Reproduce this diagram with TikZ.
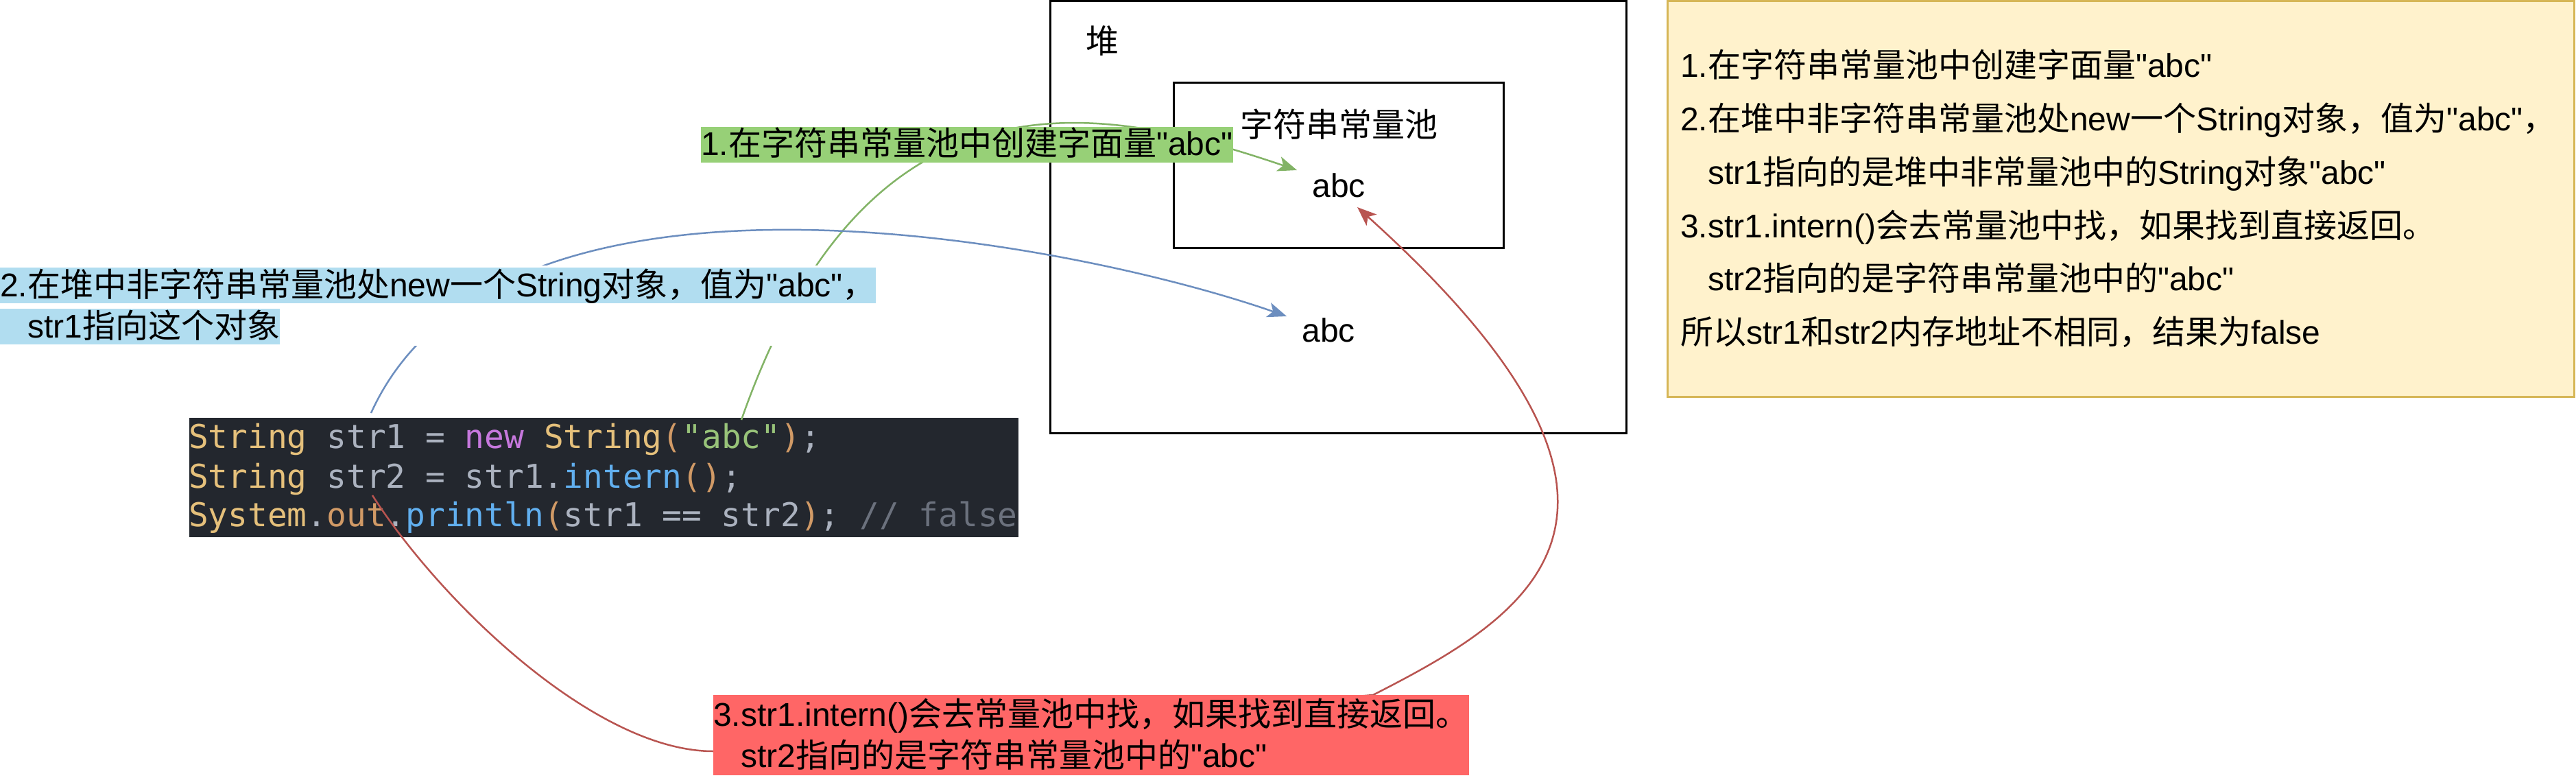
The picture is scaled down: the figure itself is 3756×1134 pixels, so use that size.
\documentclass[tikz,border=0pt]{standalone}
\usepackage{fontspec}
\setmainfont{Liberation Sans}[Ligatures=TeXOff]
\setmonofont{DejaVu Sans Mono}
\newfontfamily\cjkf{Noto Sans CJK SC}
\newcommand\C[1]{{\cjkf #1}}
\usetikzlibrary{arrows.meta}
\definecolor{yfill}{HTML}{FFF2CC}
\definecolor{ydraw}{HTML}{D6B656}
\definecolor{lgreen}{HTML}{97D077}
\definecolor{lblue}{HTML}{B1DDF0}
\definecolor{lred}{HTML}{FF6666}
\definecolor{egreen}{HTML}{82B366}
\definecolor{eblue}{HTML}{6C8EBF}
\definecolor{ered}{HTML}{B85450}
\definecolor{codebg}{HTML}{23272E}
\definecolor{cy}{HTML}{E5C07B}
\definecolor{cv}{HTML}{ABB2BF}
\definecolor{cp}{HTML}{C678DD}
\definecolor{co}{HTML}{D19A66}
\definecolor{cs}{HTML}{98C379}
\definecolor{cb}{HTML}{61AFEF}
\definecolor{cc}{HTML}{6B717D}
\tikzset{
  every node/.style={inner sep=0pt, outer sep=0pt, font=\fontsize{48}{58}\selectfont},
  txt/.style={anchor=base west},
  ctr/.style={anchor=base},
  hl/.style={anchor=base west, text height=42pt, text depth=10pt},
  codeline/.style={anchor=base west, font=\fontsize{47.8}{57}\selectfont\ttfamily\frenchspacing},
  boxline/.style={line width=3pt},
  conn/.style={line width=2.5pt},
}
\begin{document}
\begin{tikzpicture}[x=1pt,y=-1pt]
\useasboundingbox (0,0) rectangle (3756,1134);

% right note box
\node[draw=ydraw, fill=yfill, line width=3pt, anchor=north west, minimum width=1322pt, minimum height=576pt] (note) at (2431,2) {};
\node[txt] (r1) at (2450,113) {1.\C{在字符串常量池中创建字面量}"abc"};
\node[txt] (r2) at (2450,191) {2.\C{在堆中非字符串常量池处}new\C{一个}String\C{对象，值为}"abc"\C{，}};
\node[txt] (r3) at (2450,268) {\hspace*{40pt}str1\C{指向的是堆中非常量池中的}String\C{对象}"abc"};
\node[txt] (r4) at (2450,346) {3.str1.intern()\C{会去常量池中找，如果找到直接返回。}};
\node[txt] (r5) at (2450,423) {\hspace*{40pt}str2\C{指向的是字符串常量池中的}"abc"};
\node[txt] (r6) at (2450,501) {\C{所以}str1\C{和}str2\C{内存地址不相同，结果为}false};

% heap
\node[draw, boxline, anchor=north west, minimum width=840pt, minimum height=629pt] (heap) at (1531,2) {};
\node[ctr] (dui) at (1607,78) {\C{堆}};
\node[draw, boxline, anchor=north west, minimum width=481pt, minimum height=240pt] (pool) at (1711,121) {};
\node[ctr] (pooltitle) at (1952,200) {\C{字符串常量池}};
\node[ctr] (pabc) at (1952,287) {abc};
\node[ctr] (habc) at (1937,498) {abc};

% code block
\node[fill=codebg, anchor=north west, minimum width=1209pt, minimum height=174pt] (code) at (276,609) {};
\begin{scope}
\clip (276,609) rectangle (1485,783);
\node[codeline] (c1) at (275,653) {\color{cy}String \color{cv}str1 = \color{cp}new \color{cy}String\color{co}(\color{cs}"abc"\color{co})\color{cv};};
\node[codeline] (c2) at (275,711) {\color{cy}String \color{cv}str2 = str1.\color{cb}intern\color{co}()\color{cv};};
\node[codeline] (c3) at (275,767) {\color{cy}System\color{cv}.\color{co}out\color{cv}.\color{cb}println\color{co}(\color{cv}str1 == str2\color{co})\color{cv}; \color{cc}// false};
\end{scope}

% connector anchors
\coordinate (s1) at (541,602);
\coordinate (s2) at (543,722);
\coordinate (sabc) at (1081,612);
\coordinate (gtip) at (1891,248);
\coordinate (btip) at (1876,461);
\coordinate (rtip) at (1979,302);
\coordinate (rin) at (1040,1095);
\coordinate (rout) at (2002,1013);

% connectors
\draw[conn, draw=egreen, -{Stealth[length=28pt,width=22pt,inset=7pt,fill=egreen]}] (sabc) .. controls (1266,82) and (1606,151) .. (gtip);
\draw[conn, draw=eblue, -{Stealth[length=28pt,width=22pt,inset=7pt,fill=eblue]}] (s1) .. controls (729,188) and (1567,353) .. (btip);
\draw[conn, draw=ered, -{Stealth[length=28pt,width=22pt,inset=7pt,fill=ered]}] (s2) .. controls (643,878) and (868,1095) .. (rin) -- (rout) .. controls (2227,898) and (2478,751) .. (rtip);

% labels
\node[hl, fill=lgreen] (l1) at (1022,227) {1.\C{在字符串常量池中创建字面量}"abc"};
\fill[white] (0,387) rectangle (1290,504);
\node[hl, fill=lblue] (l2a) at (0,432) {2.\C{在堆中非字符串常量池处}new\C{一个}String\C{对象，值为}"abc"\C{，}};
\node[hl, fill=lblue] (l2b) at (0,492) {\hspace*{40pt}str1\C{指向这个对象}};
\node[fill=lred, anchor=north west, minimum width=1102pt, minimum height=117pt] (l3) at (1040,1013) {};
\node[txt] (l3a) at (1040,1058) {3.str1.intern()\C{会去常量池中找，如果找到直接返回。}};
\node[txt] (l3b) at (1040,1118) {\hspace*{40pt}str2\C{指向的是字符串常量池中的}"abc"};
\end{tikzpicture}
\end{document}
